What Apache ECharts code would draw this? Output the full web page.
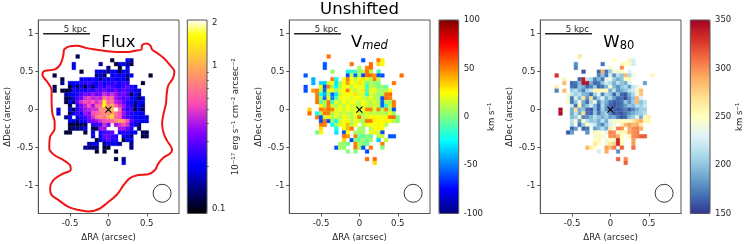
<!DOCTYPE html>
<html><head><meta charset="utf-8">
<style>html,body{margin:0;padding:0;background:#fff}#c{width:748px;height:244px}</style>
<script src="https://cdn.jsdelivr.net/npm/echarts@6/dist/echarts.min.js"></script>
</head><body><div id="c"></div>
<script>
const _ = null;
const raValues = [-0.7,-0.65,-0.6,-0.55,-0.5,-0.45,-0.4,-0.35,-0.3,-0.25,-0.2,-0.15,-0.1,-0.05,0,0.05,0.1,0.15,0.2,0.25,0.3,0.35,0.4,0.45,0.5,0.55];
const decValues = [0.7,0.65,0.6,0.55,0.5,0.45,0.4,0.35,0.3,0.25,0.2,0.15,0.1,0.05,0,-0.05,-0.1,-0.15,-0.2,-0.25,-0.3,-0.35,-0.4,-0.45,-0.5,-0.55,-0.6,-0.65,-0.7];
// each row: [index of first filled RA in raValues, values...]
const fluxRows = [
[6,.12],
[15,.11,_,_,_,.19,.15],
[5,.19,_,_,_,_,_,_,.15,_,_,_,.11,.19,.19,.15,.12],
[5,.19,_,_,_,_,_,_,_,_,.14,_,_,.11,_,.19],
[7,.11,_,_,_,.19,.18,.19,.14,.19,.19,.12,.19,.19],
[0,.11,_,_,_,_,_,_,_,_,_,_,.14,.19,.12,_,.19,.23,.19,.21,.15,.19,_,_,_,_,.11],
[2,.11,_,_,_,_,.19,.21,.19,.23,.21,.14,.23,.19,.23,.19,.21,.19,.14],
[2,.15,_,.19,.19,.21,.23,.23,.26,.23,.21,.26,.21,.23,.23,.26,.21,.26,.23,_,_,_,.11],
[0,.12,_,_,_,.11,.19,.13,.21,.11,.23,.13,.23,.26,.23,.3,.26,.23,.21,.26,.3,.23,.19],
[0,.12,_,.11,.11,.12,.23,.19,.23,.21,.26,.23,.3,.26,.33,.26,.26,.33,.26,.3,.26,.23,.19,.19],
[3,.15,.19,.21,.23,.26,.33,.3,.38,.3,.33,.46,.38,.46,.38,.3,.33,.26,.12,.21,.14],
[3,.12,.14,.19,.26,.3,.46,.5,.42,.46,.42,.7,.55,.62,.38,.33,.26,.3,.21,.19,.12,.19],
[3,.11,.19,.14,.3,.46,.55,.5,.58,.46,.55,1.45,.62,.7,.42,.38,.3,.23,.21,.15,.19,.19],
[4,.12,_,.23,.33,.42,.55,.38,.62,.66,1.55,.8,.95,.62,.46,.38,.26,.23,.14,.19,.15],
[1,.18,_,_,.19,.12,.23,.3,.38,.42,.46,.46,.8,.8,.88,1.05,2.1,.7,.33,.23,.26,.11,.19,.12],
[1,.18,_,_,.12,.19,.26,.23,.38,.33,.55,.62,.7,.8,.8,.95,.7,.55,.38,.26,.23,.21,.19,.19],
[3,.14,.19,_,.19,.23,.26,.33,.46,.7,.8,.7,.95,1.3,.62,.55,.33,.26,.23,.19,.2,.19,.19],
[4,.19,.19,.14,.21,.21,.3,.33,.38,.46,.55,.55,.62,.8,.95,.88,.55,.3,.23,.21,.19,.19],
[4,.11,.12,.11,.13,.12,_,.23,.26,.26,.46,.3,_,.38,.46,.55,.46,.23,.21,.14],
[4,.12,.14,.13,.15,.19,_,.11,.13,.38,.38,_,_,_,.38,.38,.3,.23,_,.12],
[3,.11,.11,_,_,_,.11,_,.19,_,.23,.26,.26,.3,_,.23,.23,.23,.19,.19,_,.12,.12],
[10,.19,_,.19,.3,.3,.26,.23,_,.19,.19,.15,_,_,.11,.12],
[11,.11,.19,.23,.3,.23,.23,_,.11,.19,.19],
[9,.15,.19,.19,_,.14,.19,.19,.19,.15,_,_,.14],
[8,.15,.14,.13,.14,_,.11,.11,_,_,_,_,_,.14],
[11,.11,_,.11,_,_,.11],
[],
[16,.11,_,.14],
[18,.19]
];
const vmedRows = [
[6,52],
[15,-60,_,_,_,52,27],
[5,-58,_,_,_,_,_,_,52,_,_,_,_,54,_,33,26],
[5,-58,_,_,_,_,_,_,_,_,8,_,50,55],
[7,5,_,_,_,-20,-15,-12,5,12,54,10,_,-12],
[0,-58,_,_,_,_,_,_,_,_,_,_,-60,15,-55,8,-60,54,54,45,-60,-58,_,_,_,_,54],
[2,-40,_,_,_,_,52,-25,_,25,50,23,13,25,30,20,10,50,15],
[2,-40,_,-32,-35,15,25,-30,8,20,45,25,20,30,20,-5,8,5,0,_,_,_,52],
[0,-60,_,_,_,26,-60,50,5,-25,10,25,23,10,25,20,23,-15,15,8,0,5,-5],
[0,-60,_,45,50,10,-55,20,25,5,20,25,50,20,10,23,30,-10,20,23,8,5,10,26],
[3,50,-25,-40,8,-55,-30,15,23,25,23,30,17,20,-20,23,10,5,8,52,54],
[3,52,5,-55,26,-50,-10,20,25,23,17,25,25,17,10,23,10,8,-60,54,50],
[3,52,-10,10,52,-15,23,10,25,15,25,20,10,25,17,8,23,6,-55,10,5,52],
[4,27,6,52,15,8,23,10,25,15,20,10,23,15,10,17,10,-55,-15,15,50],
[1,33,_,_,52,45,52,50,20,23,15,25,17,20,10,23,50,50,15,50,10,50,8,-60],
[1,54,_,-25,8,52,50,10,23,10,20,13,8,23,15,10,20,10,15,8,13,8,23,5],
[3,52,-60,15,26,8,20,10,23,17,10,20,52,10,17,25,27,25,20,27,52,54,0],
[4,-60,52,-60,5,-25,15,23,25,10,20,15,5,52,50,27,27,25,27,23,10,2],
[4,52,50,_,-25,5,20,23,38,10,23,_,10,20,25,23,27,23,10],
[4,33,_,_,_,-20,_,23,38,52,_,5,5,_,10,23,27,25],
[3,-5,27,_,_,_,-30,_,-60,25,_,8,5,8,_,20,27,17,-60],
[10,52,45,_,50,-5,-10,5,-5,_,10,15,_,-58,-58],
[10,33,_,-60,0,-5,5,-5,5,_,-35,_,13],
[9,5,5,-5,_,50,8,0,-5,_,_,_,50],
[8,-60,6,5,_,_,52,8,-60,_,52,_,_,0],
[11,0,_,0,_,_,-60],
[],
[16,54,_,54],
[18,33]
];
const w80Rows = [
[6,265],
[15,250,_,_,_,255,225],
[5,180,_,_,_,_,_,_,170,_,_,_,_,255,250,245,225],
[5,175,_,_,_,_,_,_,_,_,245,_,_,300],
[7,160,_,_,_,165,290,170,205,245,240,250,_,230],
[0,330,_,_,_,_,_,_,_,_,_,_,175,200,170,225,180,215,200,285,210,240,_,_,_,_,255],
[2,255,_,_,_,165,340,220,210,175,195,170,230,240,205,190,200,250,255],
[2,285,_,165,170,195,345,345,190,165,170,200,225,210,190,215,200,190,230,_,_,_,185],
[0,260,_,_,_,170,165,200,190,165,175,200,165,170,195,245,195,180,200,210,185,220,235],
[0,175,_,285,_,205,215,195,175,205,220,255,255,250,255,190,215,180,190,200,215,225,245,285],
[3,245,220,205,215,195,190,165,205,230,175,210,200,165,200,165,160,190,210,240,280],
[3,240,170,225,195,265,180,270,175,205,230,190,210,185,165,170,155,180,200,285,230],
[3,250,170,200,240,190,165,210,240,175,205,190,170,160,165,170,200,180,205,285,200,215],
[4,220,170,255,185,200,225,195,165,210,185,165,160,165,170,185,200,195,215,205,220],
[1,345,_,_,190,270,190,200,165,160,195,165,205,180,165,165,160,165,175,160,175,190,205,205],
[1,345,_,_,190,220,190,270,170,165,200,170,195,205,175,160,165,160,170,180,190,200,205,215],
[4,195,205,240,175,180,195,215,200,190,205,185,190,170,160,165,195,205,235,190,255,260],
[4,215,240,185,250,215,200,205,190,215,190,235,240,245,250,250,245,265,280,290,255,255],
[4,210,_,170,205,250,235,220,190,175,205,225,245,_,255,285,295,285,290,260],
[4,165,185,_,165,170,_,185,195,215,190,260,_,305,300,_,290,300,305,290],
[3,160,185,_,_,_,180,_,255,250,_,240,305,300,245,255,255,290,300,305],
[10,240,255,245,_,300,300,290,250,_,255,300,305,315,315],
[10,250,255,_,240,250,245,335,250,_,_,295],
[10,265,250,_,245,265,275,335,255,_,_,295],
[8,285,260,250,_,_,295,285,305,_,315,_,_,310],
[11,225,_,290,_,_,180],
[],
[16,315,_,300],
[18,315]
];
const contourRA = [-0.58,-0.52,-0.41,-0.28,-0.15,-0.02,0.11,0.26,0.37,0.43,0.44,0.50,0.55,0.57,0.63,0.72,0.80,0.86,0.84,0.78,0.76,0.75,0.72,0.70,0.72,0.76,0.83,0.80,0.72,0.65,0.61,0.52,0.39,0.28,0.20,0.11,-0.02,-0.13,-0.26,-0.39,-0.52,-0.65,-0.74,-0.76,-0.72,-0.61,-0.49,-0.50,-0.59,-0.70,-0.77,-0.76,-0.70,-0.70,-0.73,-0.74,-0.74,-0.80,-0.86,-0.83,-0.70,-0.63,-0.59,-0.58];
const contourDec = [0.79,0.83,0.84,0.81,0.79,0.77,0.76,0.76,0.78,0.79,0.85,0.87,0.84,0.79,0.75,0.68,0.59,0.50,0.41,0.32,0.21,0.08,-0.05,-0.18,-0.31,-0.40,-0.53,-0.58,-0.63,-0.71,-0.79,-0.85,-0.86,-0.90,-0.99,-1.12,-1.23,-1.31,-1.34,-1.32,-1.28,-1.19,-1.12,-1.04,-0.93,-0.85,-0.79,-0.73,-0.66,-0.60,-0.51,-0.36,-0.25,-0.16,-0.05,0.13,0.26,0.37,0.46,0.51,0.53,0.59,0.70,0.79];
const xTicks = [-0.5,0,0.5];
const yTicks = [-1,-0.5,0,0.5,1];
const fluxTicks = [0.1,1,2];
const fluxMinorTicks = [0.2,0.3,0.4,0.5,0.6,0.7,0.8,0.9];
const vmedTicks = [-100,-50,0,50,100];
const w80Ticks = [150,200,250,300,350];
const scaleBarRA = [-0.85,-0.24];
const scaleBarDec = [1,1];
const beam = [0.7,-1.1];
const center = [0,0];

function gnuplot2(n){const o=[];const cl=v=>Math.max(0,Math.min(1,v));
 for(let k=0;k<=n;k++){const t=k/n;const r=cl(t/0.32-0.78125),g=cl(2*t-0.84);
  const b=t<0.25?4*t:t<0.42?1:t<0.92?-2*t+1.84:t/0.08-11.5;
  o.push('rgb('+[r,g,cl(b)].map(v=>Math.round(v*255)).join(',')+')');}
 return o;}
const jet=['#00007f','#0000ff','#007fff','#00ffff','#7fff7f','#ffff00','#ff7f00','#ff0000','#7f0000'];
const rdylbu=['#313695','#4575b4','#74add1','#abd9e9','#e0f3f8','#ffffbf','#fee090','#fdae61','#f46d43','#d73027','#a50026'];

function cells(rows,tf){const out=[];rows.forEach((row,r)=>{if(!row.length)return;
  row.slice(1).forEach((v,k)=>{if(v!==null)out.push([raValues[row[0]+k],decValues[r],tf?tf(v):v]);});});return out;}
const renderCell=(p,api)=>{const c=api.coord([api.value(0),api.value(1)]);const s=api.size([0.05,0.05]);
  const col=api.visual('color');
  return {type:'rect',shape:{x:c[0]-s[0]/2,y:c[1]-s[1]/2,width:s[0],height:s[1]},style:{fill:col,stroke:col,lineWidth:0.3}};};

const TXT='#262626',AX='#555',F='DejaVu Sans';
const panels=[
 {left:38.3,data:cells(fluxRows,Math.log10),min:Math.log10(0.093),max:Math.log10(2.1),colors:gnuplot2(48),cbLeft:187.3,
  ticks:fluxTicks.map(Math.log10),fmt:v=>String(Math.round(Math.pow(10,v)*10)/10),minor:fluxMinorTicks.map(Math.log10),
  name:'10⁻¹⁷ erg s⁻¹ cm⁻² arcsec⁻²',gap:24,ann:[0.13,0.875],label:'{b|Flux}'},
 {left:289.3,data:cells(vmedRows),min:-100,max:100,colors:jet,cbLeft:439,ticks:vmedTicks,fmt:v=>String(v),
  name:'km s⁻¹',gap:24,ann:[0.13,0.875],label:'{b|V}{i|med}'},
 {left:540.3,data:cells(w80Rows),min:150,max:350,colors:rdylbu,cbLeft:690.3,ticks:w80Ticks,fmt:v=>String(v),
  name:'km s⁻¹',gap:23,ann:[0.11,0.875],label:'{b|W}{s|80}'}
];
const W=140.7,H=193.5,T=20;
const grid=[],xAxis=[],yAxis=[],series=[],visualMap=[];
const clear={color:'rgba(0,0,0,0)',opacity:1};
panels.forEach((p,n)=>{
  const g=grid.length, xi=xAxis.length, yi=yAxis.length;
  grid.push({left:p.left,top:T,width:W,height:H,outerBoundsMode:'none',show:true,backgroundColor:'transparent',borderColor:AX,borderWidth:1,z:3});
  xAxis.push({type:'value',gridIndex:g,min:-0.913,max:0.92,splitLine:{show:false},
    axisLine:{onZero:false,lineStyle:{color:AX}},
    axisTick:{length:3,lineStyle:{color:AX},customValues:xTicks},
    axisLabel:{customValues:xTicks,color:TXT,fontFamily:F,fontSize:8.5,margin:6,formatter:v=>String(v)},
    name:'ΔRA (arcsec)',nameLocation:'middle',nameGap:18,nameTextStyle:{color:TXT,fontFamily:F,fontSize:8.6}});
  yAxis.push({type:'value',gridIndex:g,min:-1.366,max:1.18,splitLine:{show:false},
    axisLine:{onZero:false,lineStyle:{color:AX}},
    axisTick:{length:3,lineStyle:{color:AX},customValues:yTicks},
    axisLabel:{customValues:yTicks,color:TXT,fontFamily:F,fontSize:8.5,margin:5,formatter:v=>String(v)},
    name:'ΔDec (arcsec)',nameLocation:'middle',nameGap:26,nameTextStyle:{color:TXT,fontFamily:F,fontSize:8.6}});
  visualMap.push({type:'continuous',show:true,seriesIndex:series.length,dimension:2,min:p.min,max:p.max,
    left:p.cbLeft,top:T,itemWidth:19.7,itemHeight:H,padding:0,calculable:false,hoverLink:false,realtime:false,
    text:null,inRange:{color:p.colors},borderWidth:0});
  series.push({type:'custom',xAxisIndex:xi,yAxisIndex:yi,data:p.data,renderItem:renderCell,encode:{x:0,y:1},silent:true,animation:false});
  if(n===0){series.push({type:'line',xAxisIndex:xi,yAxisIndex:yi,data:contourRA.map((x,k)=>[x,contourDec[k]]),smooth:0.35,symbol:'none',silent:true,
    lineStyle:{color:'#f21414',width:2}});}
  series.push({type:'line',xAxisIndex:xi,yAxisIndex:yi,data:scaleBarRA.map((x,k)=>[x,scaleBarDec[k]]),symbol:'none',silent:true,lineStyle:{color:'#222',width:1.4}});
  series.push({type:'scatter',xAxisIndex:xi,yAxisIndex:yi,data:[beam],symbol:'circle',symbolSize:18,silent:true,itemStyle:{color:'rgba(0,0,0,0)',borderColor:'#222',borderWidth:0.9,opacity:1}});
  series.push({type:'scatter',xAxisIndex:xi,yAxisIndex:yi,data:[center],symbol:'path://M0 0L10 10M10 0L0 10',symbolSize:6,silent:true,itemStyle:{color:'rgba(0,0,0,0)',borderColor:'#000',borderWidth:1.1,opacity:1}});
  series.push({type:'scatter',xAxisIndex:xi,yAxisIndex:yi,data:[[-0.43,1]],symbolSize:1,silent:true,itemStyle:clear,
    label:{show:true,position:'top',distance:-1,formatter:'5 kpc',color:TXT,fontFamily:F,fontSize:8.6}});
  series.push({type:'scatter',xAxisIndex:xi,yAxisIndex:yi,data:[p.ann],symbolSize:1,silent:true,itemStyle:clear,
    label:{show:true,position:'inside',formatter:p.label,color:'#000',fontFamily:F,opacity:1,
      rich:{b:{fontSize:16.5,fontFamily:F,color:'#000'},i:{fontSize:11.5,fontStyle:'italic',fontFamily:F,color:'#000',verticalAlign:'bottom',padding:[6,0,0,0]},
            s:{fontSize:11.5,fontFamily:F,color:'#000',verticalAlign:'bottom',padding:[6,0,0,0]}}}});
  const cg=grid.length;
  grid.push({left:p.cbLeft,top:T,width:19.7,height:H,outerBoundsMode:'none',show:true,backgroundColor:'transparent',borderColor:AX,borderWidth:1,z:10});
  xAxis.push({type:'value',gridIndex:cg,min:0,max:1,show:false});
  yAxis.push({type:'value',gridIndex:cg,position:'right',min:p.min,max:p.max,splitLine:{show:false},
    axisLine:{show:false},axisTick:{length:3,lineStyle:{color:AX},customValues:p.ticks},
    axisLabel:{customValues:p.ticks,color:TXT,fontFamily:F,fontSize:8.5,margin:5,formatter:p.fmt,showMinLabel:true,showMaxLabel:true},
    name:p.name,nameLocation:'middle',nameRotate:90,nameGap:p.gap,nameTextStyle:{color:TXT,fontFamily:F,fontSize:8.6}});
  if(p.minor){yAxis.push({type:'value',gridIndex:cg,position:'right',min:p.min,max:p.max,splitLine:{show:false},
    axisLine:{show:false},axisTick:{length:1.7,lineStyle:{color:AX},customValues:p.minor},axisLabel:{show:false}});}
});
const chart=echarts.init(document.getElementById('c'),null,{renderer:'canvas',width:748,height:244});
chart.setOption({animation:false,backgroundColor:'#fff',
  title:{text:'Unshifted',left:359.5,top:0,padding:[1,0,0,0],textAlign:'center',textStyle:{fontFamily:F,fontSize:16.5,fontWeight:'normal',color:'#000'}},
  grid,xAxis,yAxis,series,visualMap});
</script></body></html>
